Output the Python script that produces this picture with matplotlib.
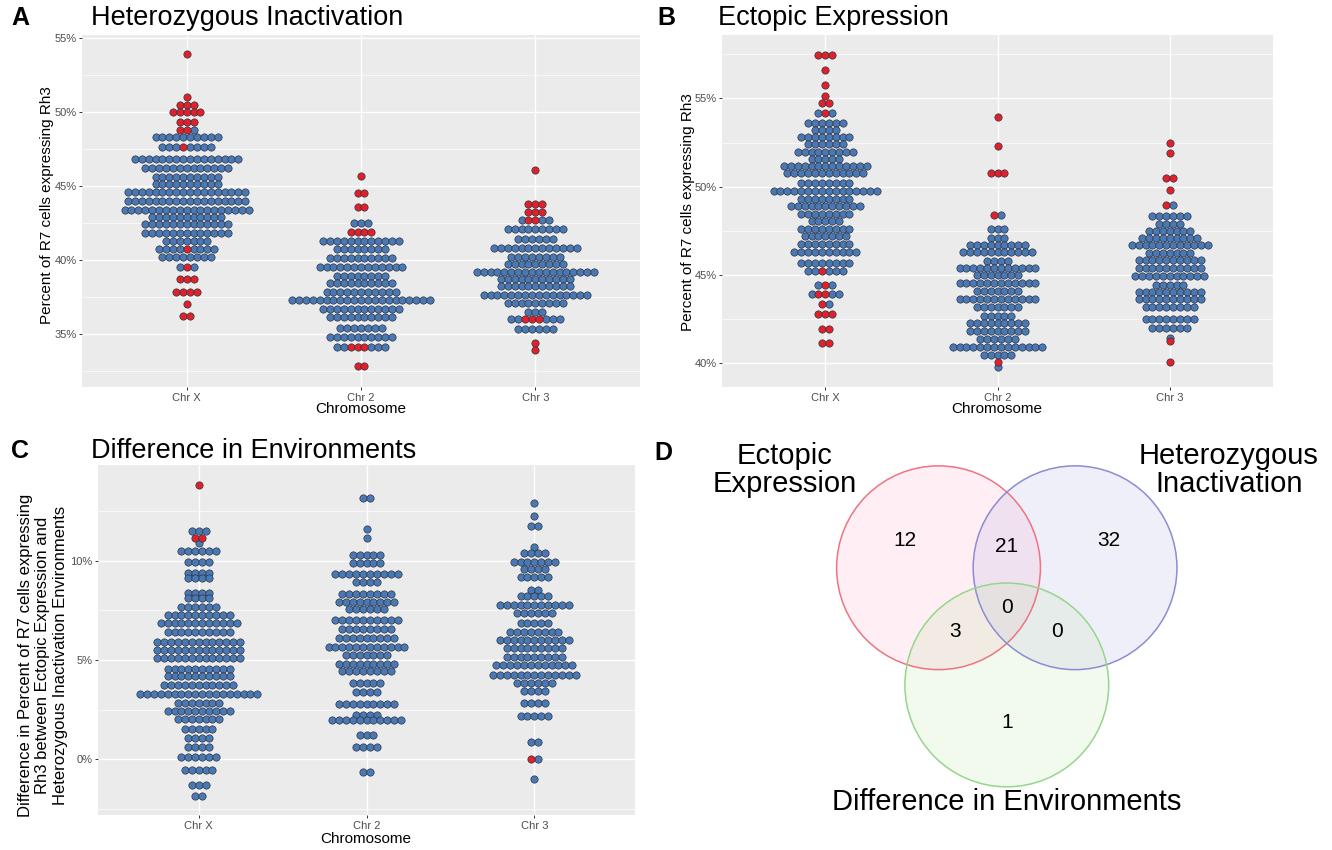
import numpy as np
import matplotlib
matplotlib.use("Agg")
import matplotlib.pyplot as plt
from matplotlib.patches import Circle
from matplotlib.ticker import FuncFormatter, MultipleLocator

plt.rcParams['font.family'] = ['Liberation Sans', 'DejaVu Sans']

W, H = 1332, 850

chroms = ["Chr X", "Chr 2", "Chr 3"]

# Panel A - Heterozygous Inactivation, dot-plot rows: percent, dots in row, red dots in row
het_x_pct = [53.9, 51.0, 50.5, 50.0, 49.3, 48.8, 48.3, 47.6, 46.8, 46.2, 45.6, 45.1, 44.6,
             44.0, 43.4, 42.9, 42.4, 41.8, 41.3, 40.7, 40.2, 39.5, 38.7, 37.8, 37.0, 36.2]
het_x_n = [1, 1, 3, 5, 3, 3, 10, 8, 16, 13, 10, 10, 18, 18, 19, 11, 13, 13, 7, 9, 8, 3, 3, 4, 1, 2]
het_x_red = [1, 1, 3, 5, 3, 2, 0, 1, 0, 0, 0, 0, 0, 0, 0, 0, 0, 0, 0, 1, 0, 1, 3, 4, 1, 2]

het_2_pct = [45.7, 44.5, 43.6, 42.5, 41.9, 41.3, 40.7, 40.1, 39.5, 38.9, 38.4, 37.8, 37.3,
             36.7, 36.1, 35.4, 34.8, 34.1, 32.8]
het_2_n = [1, 2, 2, 3, 4, 12, 8, 10, 13, 8, 10, 11, 21, 12, 10, 7, 10, 8, 2]
het_2_red = [1, 2, 2, 0, 4, 0, 0, 0, 0, 0, 0, 0, 0, 0, 0, 0, 0, 3, 2]

het_3_pct = [46.1, 43.8, 43.2, 42.7, 42.1, 41.4, 40.8, 40.2, 39.7, 39.2, 38.7, 38.2, 37.6,
             37.1, 36.5, 36.0, 35.3, 34.4, 33.9]
het_3_n = [1, 3, 3, 5, 9, 6, 13, 8, 9, 18, 11, 11, 16, 9, 3, 8, 6, 1, 1]
het_3_red = [1, 3, 3, 2, 0, 0, 0, 0, 0, 0, 0, 0, 0, 0, 0, 3, 0, 1, 1]

# Panel B - Ectopic Expression
ect_x_pct = [57.45, 56.6, 55.75, 55.15, 54.75, 54.15, 53.6, 53.2, 52.8, 52.4, 51.95, 51.55,
             51.2, 50.75, 50.2, 49.75, 49.3, 48.9, 48.45, 48.05, 47.6, 47.2, 46.75, 46.3,
             45.7, 45.2, 44.45, 43.95, 43.35, 42.8, 41.95, 41.15]
ect_x_n = [3, 1, 1, 1, 2, 3, 6, 4, 8, 6, 9, 5, 13, 12, 8, 16, 8, 11, 8, 5, 8, 7, 8, 10,
           8, 6, 3, 5, 2, 3, 2, 2]
ect_x_red = [3, 1, 1, 1, 2, 1, 0, 0, 0, 0, 0, 0, 0, 0, 0, 0, 0, 0, 0, 0, 0, 0, 0, 0,
             0, 1, 1, 2, 1, 3, 2, 2]

ect_2_pct = [53.96, 52.3, 50.8, 48.4, 47.6, 47.1, 46.7, 46.3, 45.8, 45.4, 45.0, 44.55,
             44.1, 43.65, 43.2, 42.7, 42.3, 41.85, 41.4, 40.95, 40.45, 40.05, 39.8]
ect_2_n = [1, 1, 3, 2, 3, 3, 9, 11, 4, 12, 7, 12, 7, 12, 7, 5, 9, 9, 6, 14, 5, 1, 1]
ect_2_red = [1, 1, 3, 1, 0, 0, 0, 0, 0, 0, 0, 0, 0, 0, 0, 0, 0, 0, 0, 0, 0, 1, 0]

ect_3_pct = [52.5, 51.9, 50.5, 49.8, 48.95, 48.35, 47.9, 47.5, 47.1, 46.7, 46.25, 45.85,
             45.4, 44.95, 44.45, 44.05, 43.65, 43.2, 42.5, 42.0, 41.45, 41.25, 40.05]
ect_3_n = [1, 1, 2, 1, 2, 6, 4, 7, 9, 12, 7, 10, 10, 11, 5, 10, 10, 8, 8, 6, 1, 1, 1]
ect_3_red = [1, 1, 2, 1, 1, 0, 0, 0, 0, 0, 0, 0, 0, 0, 0, 0, 0, 0, 0, 0, 0, 1, 1]

# Panel C - Difference in Environments
diff_x_pct = [13.82, 11.52, 11.13, 10.88, 10.51, 9.95, 9.4, 9.12, 8.4, 8.11, 7.69, 7.27,
              6.85, 6.43, 5.89, 5.5, 5.08, 4.55, 4.21, 3.74, 3.27, 2.85, 2.43, 2.01, 1.51,
              1.05, 0.6, 0.13, -0.54, -1.3, -1.84]
diff_x_n = [1, 3, 2, 1, 6, 4, 4, 4, 4, 4, 6, 10, 12, 10, 13, 13, 13, 10, 10, 11, 18, 7,
            10, 7, 5, 4, 4, 6, 5, 3, 2]
diff_x_red = [1, 0, 2] + [0] * 28

diff_2_pct = [13.15, 11.6, 11.16, 10.29, 9.87, 9.32, 8.95, 8.31, 7.94, 7.57, 7.02, 6.55,
              6.09, 5.64, 5.25, 4.8, 4.45, 3.83, 3.4, 2.78, 2.23, 1.98, 1.22, 0.63, -0.66]
diff_2_n = [2, 1, 1, 5, 5, 10, 4, 8, 9, 6, 10, 8, 9, 12, 7, 9, 8, 5, 4, 9, 4, 11, 3, 4, 2]
diff_2_red = [0] * 25

diff_3_pct = [12.9, 12.26, 11.75, 10.71, 10.38, 9.95, 9.57, 9.2, 8.53, 8.23, 7.77, 7.38,
              6.88, 6.43, 6.01, 5.59, 5.17, 4.75, 4.24, 3.86, 3.44, 2.85, 2.19, 0.88, 0.0, -1.0]
diff_3_n = [1, 1, 2, 1, 4, 7, 4, 5, 2, 5, 11, 6, 5, 8, 11, 9, 9, 12, 13, 6, 4, 4, 5, 2, 2, 1]
diff_3_red = [0] * 24 + [1, 0]

# Panel D - Venn counts
venn_regions = ["E", "H", "D", "EH", "ED", "HD", "EHD"]
venn_counts = [12, 32, 1, 21, 3, 0, 0]

BLUE = '#4A78B4'
RED = '#E3202A'
EDGE = '#2A3442'
DOT_PX = 7.3


def px_axes(fig, left, top, right, bottom):
    return fig.add_axes([left / W, 1 - bottom / H, (right - left) / W, (bottom - top) / H])


def style(ax, ylim, major):
    ax.set_facecolor('#EBEBEB')
    for s in ax.spines.values():
        s.set_visible(False)
    ax.set_xlim(0.4, 3.6)
    ax.set_ylim(*ylim)
    ax.set_xticks([1, 2, 3])
    ax.set_xticklabels(chroms)
    ax.yaxis.set_major_locator(MultipleLocator(major))
    ax.yaxis.set_minor_locator(MultipleLocator(major / 2))
    ax.yaxis.set_major_formatter(FuncFormatter(lambda v, p: f"{v:.0f}%"))
    ax.grid(which='major', color='white', lw=1.0)
    ax.grid(which='minor', axis='y', color='white', lw=0.5)
    ax.tick_params(which='major', length=2.5, color='#333333', width=0.7,
                   labelsize=8, labelcolor='#4D4D4D', pad=1.5)
    ax.tick_params(which='minor', length=0)
    ax.set_axisbelow(True)


def dotplot(ax, groups):
    unit_px = ax.get_position().width * W / 3.2
    step = (DOT_PX - 0.4) / unit_px
    size = (DOT_PX / 1.389) ** 2
    for i, (pct, n, red) in enumerate(groups):
        bx, by, rx, ry = [], [], [], []
        for y, k, r in zip(pct, n, red):
            off = (np.arange(k) - (k - 1) / 2) * step
            order = np.argsort(np.abs(off), kind='stable')
            is_red = np.zeros(k, bool)
            is_red[order[:r]] = True
            for o, flag in zip(off, is_red):
                if flag:
                    rx.append(i + 1 + o); ry.append(y)
                else:
                    bx.append(i + 1 + o); by.append(y)
        ax.scatter(bx, by, s=size, c=BLUE, edgecolors=EDGE, linewidths=0.5, zorder=3)
        ax.scatter(rx, ry, s=size, c=RED, edgecolors=EDGE, linewidths=0.5, zorder=4)


fig = plt.figure(figsize=(W / 100, H / 100), dpi=100)

axA = px_axes(fig, 82, 35, 640, 387)
style(axA, (31.4, 55.2), 5)
dotplot(axA, [(het_x_pct, het_x_n, het_x_red), (het_2_pct, het_2_n, het_2_red),
              (het_3_pct, het_3_n, het_3_red)])

axB = px_axes(fig, 722, 35, 1273, 387)
style(axB, (38.66, 58.59), 5)
dotplot(axB, [(ect_x_pct, ect_x_n, ect_x_red), (ect_2_pct, ect_2_n, ect_2_red),
              (ect_3_pct, ect_3_n, ect_3_red)])

axC = px_axes(fig, 98, 465, 635, 815)
style(axC, (-2.81, 14.83), 5)
dotplot(axC, [(diff_x_pct, diff_x_n, diff_x_red), (diff_2_pct, diff_2_n, diff_2_red),
              (diff_3_pct, diff_3_n, diff_3_red)])


def ftext(x, y, s, **kw):
    fig.text(x / W, 1 - y / H, s, **kw)


# panel letters and titles
ftext(11, 18, "A", fontsize=18, fontweight='bold', va='center', ha='left')
ftext(91, 18, "Heterozygous Inactivation", fontsize=19.5, va='center', ha='left')
ftext(657, 18, "B", fontsize=18, fontweight='bold', va='center', ha='left')
ftext(718, 18, "Ectopic Expression", fontsize=19.5, va='center', ha='left')
ftext(11, 451, "C", fontsize=18, fontweight='bold', va='center', ha='left')
ftext(91, 451, "Difference in Environments", fontsize=19.5, va='center', ha='left')
ftext(654, 453, "D", fontsize=18, fontweight='bold', va='center', ha='left')

# axis titles
ftext(361, 409, "Chromosome", fontsize=11, ha='center', va='center')
ftext(997, 409, "Chromosome", fontsize=11, ha='center', va='center')
ftext(366, 839, "Chromosome", fontsize=11, ha='center', va='center')
ftext(47, 205, "Percent of R7 cells expressing Rh3", fontsize=11, rotation=90,
      ha='center', va='center')
ftext(688, 212, "Percent of R7 cells expressing Rh3", fontsize=11, rotation=90,
      ha='center', va='center')
ftext(43, 655, "Difference in Percent of R7 cells expressing\nRh3 between Ectopic Expression and\n"
      "Heterozygous Inactivation Environments", fontsize=12, rotation=90,
      ha='center', va='center', multialignment='center', linespacing=1.2)

# Venn diagram (unit = circle radius)
axD = px_axes(fig, 650, 420, 1332, 850)
axD.set_xlim(-3.5, 3.19)
axD.set_ylim(-2.77, 1.45)
axD.set_aspect('equal')
axD.axis('off')

circles = [((-0.67, 0.0), '#FF96BE', '#EE7482'),
           ((0.67, 0.0), '#A0A0DC', '#8C8CD2'),
           ((0.0, -1.15), '#B4E196', '#94D78C')]
for (cx, cy), fc, ec in circles:
    axD.add_patch(Circle((cx, cy), 1.0, facecolor=fc, alpha=0.16, edgecolor='none'))
for (cx, cy), fc, ec in circles:
    axD.add_patch(Circle((cx, cy), 1.0, facecolor='none', edgecolor=ec, lw=1.1))

region_pos = {"E": (-1.0, 0.27), "H": (1.0, 0.27), "D": (0.0, -1.52),
              "EH": (0.0, 0.21), "ED": (-0.51, -0.63), "HD": (0.49, -0.63),
              "EHD": (0.0, -0.39)}
for reg, cnt in zip(venn_regions, venn_counts):
    x, y = region_pos[reg]
    axD.text(x, y, str(cnt), fontsize=15, ha='center', va='center')

axD.text(-2.18, 0.96, "Ectopic\nExpression", fontsize=21, ha='center', va='center',
         linespacing=1.0)
axD.text(2.18, 0.96, "Heterozygous\nInactivation", fontsize=21, ha='center', va='center',
         linespacing=1.0)
axD.text(0.0, -2.3, "Difference in Environments", fontsize=21, ha='center', va='center')

fig.savefig("out.png", dpi=100)
